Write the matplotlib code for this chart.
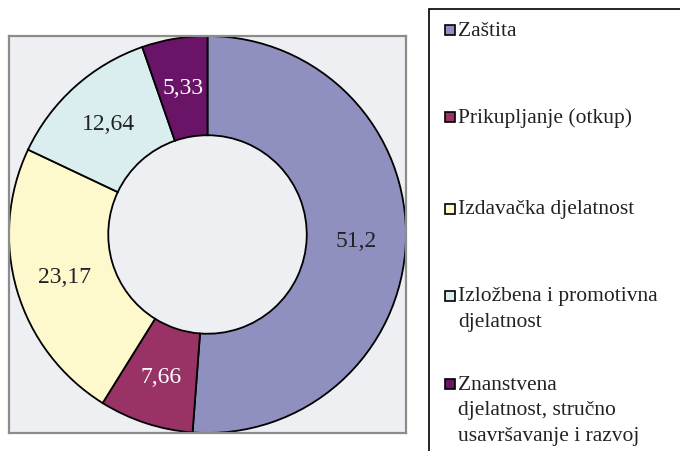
import matplotlib
matplotlib.use("Agg")
from matplotlib import pyplot as plt
from matplotlib.patches import Rectangle
import numpy as np

# podaci
kategorije = ["Zaštita", "Prikupljanje (otkup)", "Izdavačka djelatnost",
              "Izložbena i promotivna\ndjelatnost",
              "Znanstvena\ndjelatnost, stručno\nusavršavanje i razvoj"]
vrijednosti = [51.2, 7.66, 23.17, 12.64, 5.33]
oznake = ["51,2", "7,66", "23,17", "12,64", "5,33"]
boje = ["#8F90C0", "#993366", "#FEF9CC", "#DAEEF0", "#6A1468"]
boje_teksta = ["#222222", "white", "#222222", "#222222", "white"]

W, H = 680, 452
fig = plt.figure(figsize=(W / 100, H / 100), dpi=100, facecolor="white")
plt.rcParams['font.family'] = ['Liberation Serif', 'DejaVu Serif']


def fx(px):
    return px / W


def fy(py):
    return 1 - py / H


# krug
ax = fig.add_axes([fx(9), fy(434), fx(397), 397 / H])
ax.pie(vrijednosti, colors=boje, startangle=90, counterclock=False,
       radius=1.0, frame=True,
       wedgeprops=dict(width=0.5, edgecolor="black", linewidth=1.3))
ax.set_xlim(-1.0, 1.0)
ax.set_ylim(-1.0, 1.0)
ax.set_aspect("equal")
ax.set_xticks([])
ax.set_yticks([])
ax.set_facecolor("#EEEFF2")
for s in ax.spines.values():
    s.set_color("#8C8C8C")
    s.set_linewidth(1.6)

# oznake vrijednosti u sredini prstena
ukupno = sum(vrijednosti)
kut = 90.0
for v, t, c in zip(vrijednosti, oznake, boje_teksta):
    sredina = kut - v / ukupno * 360 / 2
    kut -= v / ukupno * 360
    r = 0.75
    ax.text(r * np.cos(np.radians(sredina)), r * np.sin(np.radians(sredina)), t,
            ha="center", va="center", fontsize=17, color=c)

# legenda
fig.add_artist(Rectangle((fx(429), -0.1), 1, fy(10) + 0.1, transform=fig.transFigure,
                         facecolor="white", edgecolor="black", linewidth=1.2))
legenda_y = [31, 118, 210, 297, 385]
razmak = 26
for k, b, y in zip(kategorije, boje, legenda_y):
    fig.add_artist(Rectangle((fx(445), fy(y + 5)), fx(10), 10 / H, transform=fig.transFigure,
                             facecolor=b, edgecolor="black", linewidth=1.2))
    for i, red in enumerate(k.split("\n")):
        fig.text(fx(458), fy(y + i * razmak), red, ha="left", va="center",
                 fontsize=15.5, color="#222222")

fig.savefig("out.png", dpi=100, facecolor="white")
